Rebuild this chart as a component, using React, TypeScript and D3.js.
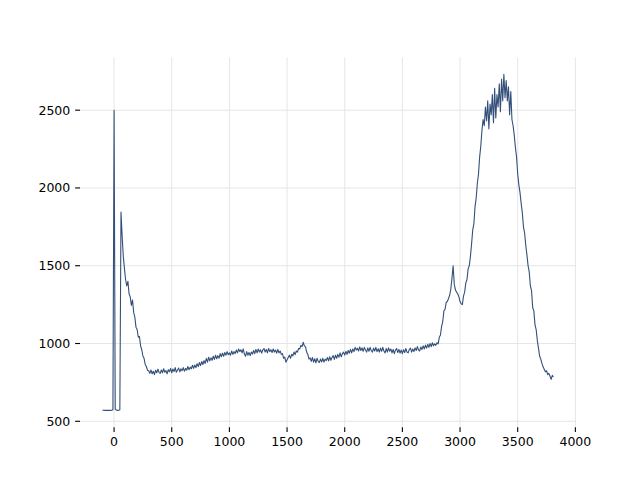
import React from "react";
import * as d3 from "d3";

// sampling grid of the series
const xStart = -100;
const xStep = 10;

// series values, one per 10 units starting at x = -100
const values: number[] = [
  // -100 .. -10
  572, 571, 570, 571, 570, 571, 570, 570, 571, 574,
  // 0 .. 90
  2500, 578, 572, 570, 571, 573, 1845, 1690, 1560, 1480,
  // 100 .. 190
  1410, 1370, 1400, 1320, 1300, 1245, 1280, 1200, 1170, 1105,
  // 200 .. 290
  1090, 1040, 1045, 985, 960, 920, 905, 865, 852, 828,
  // 300 .. 390
  825, 808, 830, 805, 822, 800, 828, 812, 835, 815,
  // 400 .. 490
  808, 830, 812, 838, 815, 826, 805, 832, 818, 840,
  // 500 .. 590
  812, 836, 820, 845, 815, 830, 842, 818, 838, 825,
  // 600 .. 690
  845, 822, 840, 828, 852, 832, 848, 838, 860, 840,
  // 700 .. 790
  862, 845, 870, 852, 878, 858, 884, 865, 890, 872,
  // 800 .. 890
  905, 880, 912, 888, 908, 892, 918, 898, 925, 902,
  // 900 .. 990
  922, 905, 935, 915, 938, 918, 942, 925, 948, 928,
  // 1000 .. 1090
  940, 925, 952, 930, 948, 935, 958, 940, 965, 948,
  // 1100 .. 1190
  960, 940, 965, 932, 918, 948, 925, 942, 922, 945,
  // 1200 .. 1290
  932, 955, 935, 962, 940, 965, 945, 960, 938, 958,
  // 1300 .. 1390
  968, 945, 962, 940, 968, 948, 960, 942, 965, 945,
  // 1400 .. 1490
  958, 938, 962, 940, 952, 930, 935, 905, 912, 880,
  // 1500 .. 1590
  895, 910, 925, 905, 930, 920, 945, 928, 952, 945,
  // 1600 .. 1690
  968, 965, 988, 980, 1008, 985, 978, 945, 930, 900,
  // 1700 .. 1790
  908, 885, 910, 880, 902, 875, 905, 885, 878, 900,
  // 1800 .. 1890
  882, 905, 880, 900, 890, 910, 888, 915, 892, 910,
  // 1900 .. 1990
  922, 898, 925, 905, 930, 912, 940, 915, 935, 945,
  // 2000 .. 2090
  925, 950, 930, 955, 938, 962, 940, 965, 948, 975,
  // 2100 .. 2190
  958, 970, 952, 978, 955, 972, 950, 975, 958, 945,
  // 2200 .. 2290
  972, 950, 975, 955, 945, 970, 952, 975, 948, 966,
  // 2300 .. 2390
  945, 970, 950, 975, 952, 940, 968, 945, 972, 950,
  // 2400 .. 2490
  965, 940, 962, 935, 958, 968, 942, 962, 938, 958,
  // 2500 .. 2590
  935, 960, 942, 968, 945, 940, 962, 970, 945, 965,
  // 2600 .. 2690
  948, 972, 955, 980, 958, 952, 978, 962, 985, 965,
  // 2700 .. 2790
  990, 970, 995, 975, 1000, 980, 1005, 985, 998, 988,
  // 2800 .. 2890
  1005, 998, 1040, 1055, 1110, 1140, 1210, 1220, 1265, 1270,
  // 2900 .. 2990
  1290, 1310, 1350, 1420, 1500, 1380, 1345, 1330, 1320, 1300,
  // 3000 .. 3090
  1270, 1255, 1250, 1305, 1330, 1390, 1410, 1480, 1500, 1560,
  // 3100 .. 3190
  1640, 1730, 1770, 1880, 1935, 2030, 2090, 2200, 2270, 2370,
  // 3200 .. 3290
  2440, 2400, 2520, 2430, 2560, 2380, 2540, 2470, 2600, 2420,
  // 3300 .. 3390
  2640, 2450, 2600, 2520, 2670, 2490, 2700, 2560, 2730, 2580,
  // 3400 .. 3490
  2690, 2560, 2650, 2470, 2620, 2440, 2400, 2340, 2260, 2200,
  // 3500 .. 3590
  2090, 2020, 1970, 1900, 1840, 1750, 1710, 1630, 1570, 1500,
  // 3600 .. 3690
  1460, 1370, 1340, 1230, 1210, 1120, 1090, 1020, 970, 920,
  // 3700 .. 3790
  900, 872, 850, 835, 818, 825, 800, 808, 790, 770,
  // 3800 .. 3810
  795, 785,
];

const xTicks = [0, 500, 1000, 1500, 2000, 2500, 3000, 3500, 4000];
const yTicks = [500, 1000, 1500, 2000, 2500];

const W = 640;
const H = 480;
const left = 80;
const right = 576;
const top = 57.6;
const bottom = 427.2;

export default function App() {
  const pts = values.map((v, i) => [xStart + i * xStep, v] as [number, number]);
  const [x0, x1] = d3.extent(pts, (d) => d[0]) as [number, number];
  const [y0, y1] = d3.extent(pts, (d) => d[1]) as [number, number];
  const xm = (x1 - x0) * 0.05;
  const ym = (y1 - y0) * 0.05;
  const x = d3.scaleLinear().domain([x0 - xm, x1 + xm]).range([left, right]);
  const y = d3.scaleLinear().domain([y0 - ym, y1 + ym]).range([bottom, top]);
  const line = d3
    .line<[number, number]>()
    .x((d) => x(d[0]))
    .y((d) => y(d[1]));

  const font = "DejaVu Sans, sans-serif";
  const tickLen = 4.86;
  const pad = 4.86;

  return (
    <svg
      width={W}
      height={H}
      style={{ position: "absolute", left: 0, top: 0, background: "#fff" }}
    >
      <rect x={0} y={0} width={W} height={H} fill="#fff" />
      <g>
        {xTicks.map((t) => (
          <line
            key={"gx" + t}
            x1={x(t)}
            x2={x(t)}
            y1={top}
            y2={bottom}
            stroke="#e6e6e6"
            strokeWidth={1}
          />
        ))}
        {yTicks.map((t) => (
          <line
            key={"gy" + t}
            x1={left}
            x2={right}
            y1={y(t)}
            y2={y(t)}
            stroke="#e6e6e6"
            strokeWidth={1}
          />
        ))}
      </g>
      <path
        d={line(pts) || ""}
        fill="none"
        stroke="#34507a"
        strokeWidth={1.1}
        strokeLinejoin="round"
      />
      <g fontFamily={font} fontSize={12.5} fill="#000">
        {xTicks.map((t) => (
          <g key={"tx" + t}>
            <line
              x1={x(t)}
              x2={x(t)}
              y1={bottom}
              y2={bottom + tickLen}
              stroke="#000"
              strokeWidth={1.1}
            />
            <text
              x={x(t)}
              y={bottom + tickLen + pad}
              textAnchor="middle"
              dy="0.76em"
            >
              {t}
            </text>
          </g>
        ))}
        {yTicks.map((t) => (
          <g key={"ty" + t}>
            <line
              x1={left - tickLen}
              x2={left}
              y1={y(t)}
              y2={y(t)}
              stroke="#000"
              strokeWidth={1.1}
            />
            <text
              x={left - tickLen - pad}
              y={y(t)}
              textAnchor="end"
              dy="0.36em"
            >
              {t}
            </text>
          </g>
        ))}
      </g>
    </svg>
  );
}
